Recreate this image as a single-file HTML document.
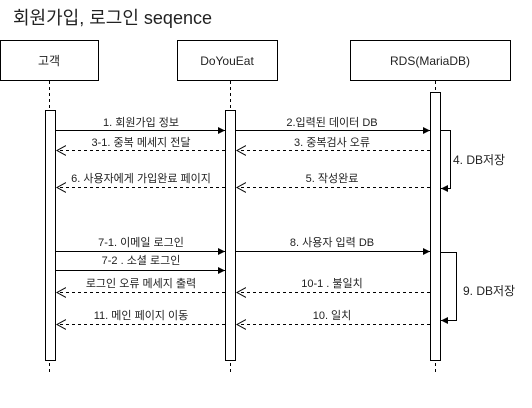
<!DOCTYPE html>
<html><head><meta charset="utf-8"><style>
body{margin:0;background:#fff;}
svg text{font-family:"Liberation Sans","Noto Sans CJK KR",sans-serif;fill:#222;}
</style></head><body>
<svg width="532" height="403" xmlns="http://www.w3.org/2000/svg">
<defs>
<marker id="f" markerWidth="8" markerHeight="8" refX="7" refY="4" orient="auto" markerUnits="userSpaceOnUse"><path d="M0,0.5 L7,4 L0,7.5 Z" fill="#000"/></marker>
<marker id="o" markerWidth="12" markerHeight="12" refX="9" refY="6" orient="auto" markerUnits="userSpaceOnUse"><path d="M0,1 L9,6 L0,11" fill="none" stroke="#000" stroke-width="1"/></marker>
</defs>
<text x="13" y="24" font-size="18">회원가입, 로그인 seqence</text>
<g fill="#fff" stroke="#000" stroke-width="1">
<rect x="0.5" y="40.5" width="98" height="40"/>
<rect x="177.5" y="40.5" width="100" height="40"/>
<rect x="350.5" y="40.5" width="160" height="40"/>
</g>
<g font-size="12" text-anchor="middle">
<text x="49" y="65">고객</text><text x="227" y="65">DoYouEat</text><text x="430" y="65">RDS(MariaDB)</text>
</g>
<g stroke="#000" stroke-dasharray="3,3">
<line x1="49.5" y1="81" x2="49.5" y2="372"/>
<line x1="230.5" y1="81" x2="230.5" y2="372"/>
<line x1="435.5" y1="81" x2="435.5" y2="372"/>
</g>
<g fill="#fff" stroke="#000">
<rect x="45.5" y="110.5" width="10" height="250"/>
<rect x="225.5" y="110.5" width="10" height="250"/>
<rect x="430.5" y="92.5" width="10" height="268"/>
</g>
<g stroke="#000" fill="none">
<line x1="56" y1="130.5" x2="225" y2="130.5" marker-end="url(#f)"/>
<line x1="236" y1="130.5" x2="430" y2="130.5" marker-end="url(#f)"/>
<line x1="56" y1="251.5" x2="225" y2="251.5" marker-end="url(#f)"/>
<line x1="236" y1="251.5" x2="430" y2="251.5" marker-end="url(#f)"/>
<line x1="56" y1="270.5" x2="225" y2="270.5" marker-end="url(#f)"/>
<polyline points="441,130.5 450.5,130.5 450.5,188.5 441,188.5" marker-end="url(#f)"/>
<polyline points="441,252.5 456.5,252.5 456.5,320.5 441,320.5" marker-end="url(#f)"/>
<g stroke-dasharray="3,3">
<line x1="225" y1="150.5" x2="57" y2="150.5" marker-end="url(#o)"/>
<line x1="430" y1="150.5" x2="237" y2="150.5" marker-end="url(#o)"/>
<line x1="225" y1="187.5" x2="57" y2="187.5" marker-end="url(#o)"/>
<line x1="430" y1="187.5" x2="237" y2="187.5" marker-end="url(#o)"/>
<line x1="225" y1="292.5" x2="57" y2="292.5" marker-end="url(#o)"/>
<line x1="430" y1="292.5" x2="237" y2="292.5" marker-end="url(#o)"/>
<line x1="225" y1="324.5" x2="57" y2="324.5" marker-end="url(#o)"/>
<line x1="430" y1="324.5" x2="237" y2="324.5" marker-end="url(#o)"/>
</g>
</g>
<g font-size="11" text-anchor="middle">
<text x="141" y="126">1. 회원가입 정보</text>
<text x="141" y="146">3-1. 중복 메세지 전달</text>
<text x="141" y="182">6. 사용자에게 가입완료 페이지</text>
<text x="141" y="246">7-1. 이메일 로그인</text>
<text x="141" y="264">7-2 . 소셜 로그인</text>
<text x="141" y="287">로그인 오류 메세지 출력</text>
<text x="141" y="319">11. 메인 페이지 이동</text>
<text x="332" y="126">2.입력된 데이터 DB</text>
<text x="332" y="146">3. 중복검사 오류</text>
<text x="332" y="182">5. 작성완료</text>
<text x="332" y="246">8. 사용자 입력 DB</text>
<text x="332" y="287">10-1 . 불일치</text>
<text x="332" y="319">10. 일치</text>
</g>
<g font-size="12">
<text x="453" y="164">4. DB저장</text>
<text x="463" y="295">9. DB저장</text>
</g>
</svg>
</body></html>
